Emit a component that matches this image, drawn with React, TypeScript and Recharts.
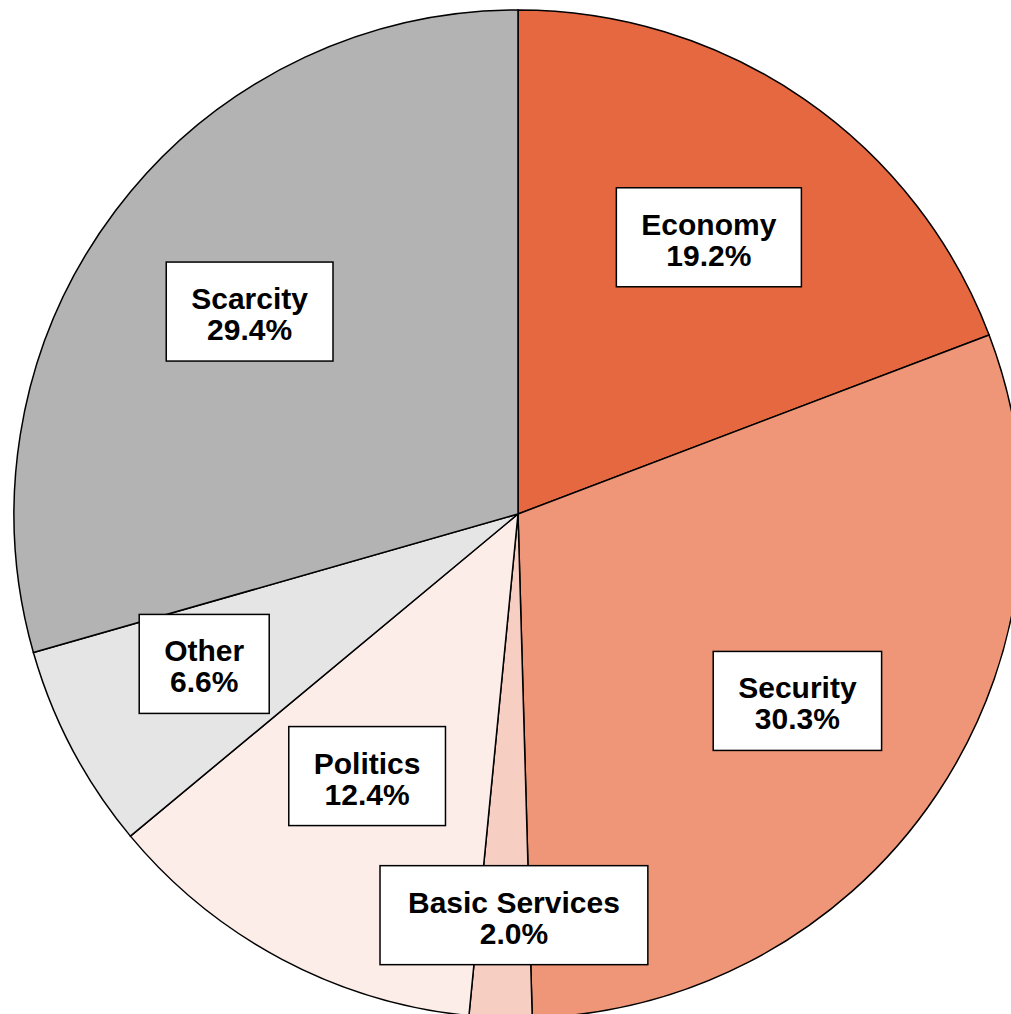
import { PieChart, Pie, Cell } from "recharts";

const categories = ["Economy", "Security", "Basic Services", "Politics", "Other", "Scarcity"];
const shares = [19.2, 30.3, 2.0, 12.4, 6.6, 29.4];
const colors = ["#e66840", "#ee9677", "#f6cfc2", "#fcede9", "#e5e5e5", "#b3b3b3"];

const data = categories.map((name, i) => ({ name, value: shares[i] }));

// labels pushed apart where the slices are narrow: radius fraction, clockwise angle shift (deg)
const labelNudge: Record<string, { r: number; a: number }> = {
  "Basic Services": { r: 0.796, a: -1.4 },
  Politics: { r: 0.6, a: 2 },
  Other: { r: 0.69, a: 2.3 },
};

const FONT = "bold 30px 'Liberation Sans', Arial, sans-serif";
const RAD = Math.PI / 180;

let ctx: CanvasRenderingContext2D | null = null;
function textWidth(s: string) {
  if (!ctx) ctx = document.createElement("canvas").getContext("2d");
  if (!ctx) return s.length * 17;
  ctx.font = FONT;
  return ctx.measureText(s).width;
}

function BoxLabel(props: any) {
  const { cx, cy, midAngle, outerRadius, payload } = props;
  const name = payload.name as string;
  const nudge = labelNudge[name] ?? { r: 0.667, a: 0 };
  const r = outerRadius * nudge.r;
  const ang = midAngle - nudge.a;
  const x = cx + r * Math.cos(-ang * RAD);
  const y = cy + r * Math.sin(-ang * RAD);
  const pct = `${Number(payload.value).toFixed(1)}%`;
  const pad = name === "Basic Services" ? 56 : 50;
  const w = Math.max(textWidth(name), textWidth(pct)) + pad;
  const h = 99;
  return (
    <g>
      <rect
        x={x - w / 2}
        y={y - h / 2}
        width={w}
        height={h}
        fill="#fff"
        stroke="#000"
        strokeWidth={1.5}
      />
      <text textAnchor="middle" style={{ font: FONT }} fill="#000">
        <tspan x={x} y={y - 2.5}>{name}</tspan>
        <tspan x={x} y={y + 28.5}>{pct}</tspan>
      </text>
    </g>
  );
}

export default function App() {
  return (
    <div
      style={{
        position: "absolute",
        left: 0,
        top: 0,
        width: 1011,
        height: 1014,
        overflow: "hidden",
        background: "#fff",
      }}
    >
      <PieChart width={1011} height={1014} margin={{ top: 0, right: 0, bottom: 0, left: 0 }}>
        <Pie
          data={data}
          dataKey="value"
          nameKey="name"
          cx={518}
          cy={514}
          outerRadius={504}
          startAngle={90}
          endAngle={-270}
          stroke="#000"
          strokeWidth={1.5}
          label={BoxLabel}
          labelLine={false}
          isAnimationActive={false}
        >
          {data.map((d, i) => (
            <Cell key={d.name} fill={colors[i]} />
          ))}
        </Pie>
      </PieChart>
    </div>
  );
}
